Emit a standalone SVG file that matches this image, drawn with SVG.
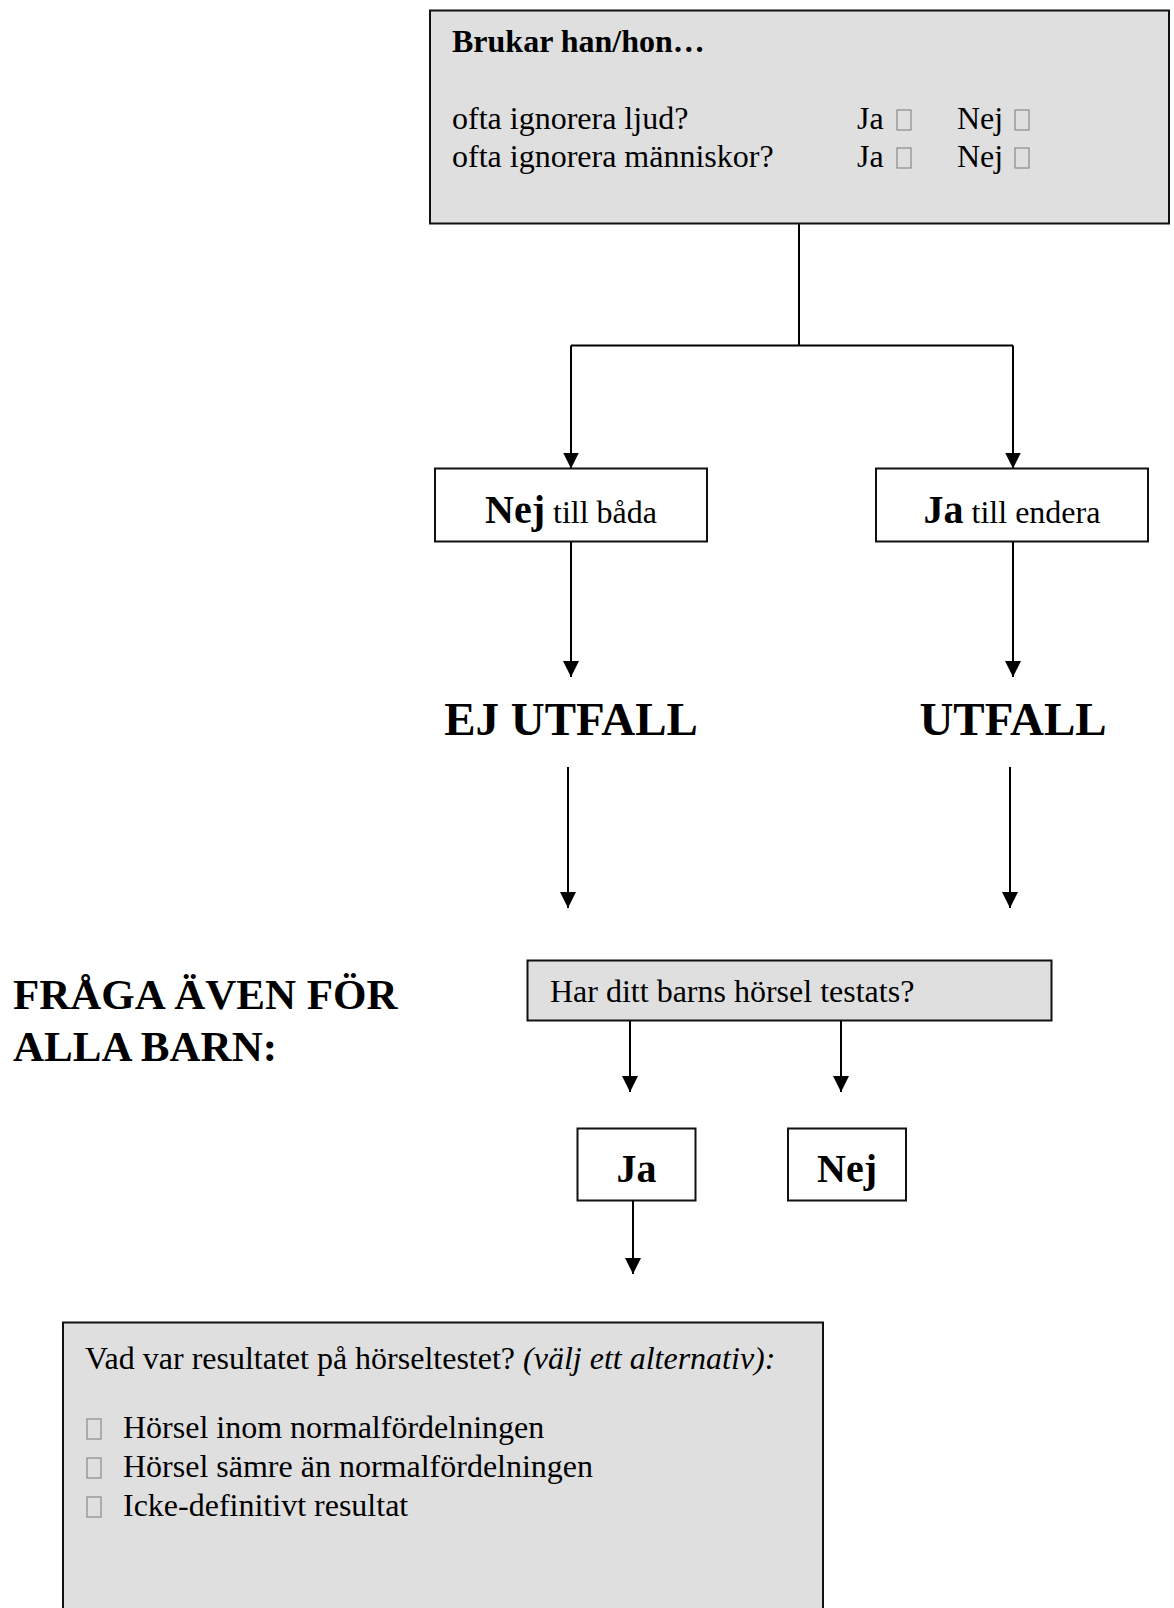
<svg xmlns="http://www.w3.org/2000/svg" width="1174" height="1608" viewBox="0 0 1174 1608">
  <style>
    .box { fill: #ffffff; stroke: #111111; stroke-width: 2; }
    .grey { fill: #dfdfdf; stroke: #111111; stroke-width: 2; }
    .t { font-family: "Liberation Serif", "Times New Roman", serif; fill: #000000; }
    .n { font-size: 32px; }
    .b { font-weight: bold; }
    .i { font-style: italic; }
    .big { font-size: 47px; font-weight: bold; }
    .head { font-size: 43px; font-weight: bold; }
    .mid { font-size: 40px; font-weight: bold; }
    .edge { fill: none; stroke: #000000; stroke-width: 2; }
    .arrow { marker-end: url(#head); }
    .tick { fill: none; stroke: #8a8a8a; stroke-width: 1.2; }
  </style>
  <defs>
    <marker id="head" markerUnits="userSpaceOnUse" markerWidth="16" markerHeight="16" viewBox="0 0 16 16" refX="16" refY="8" orient="auto">
      <path d="M0,0 L16,8 L0,16 Z" fill="#000000"/>
    </marker>
    <rect id="cb" x="0" y="0" width="14" height="20" class="tick"/>
  </defs>

  <rect width="1174" height="1608" fill="#ffffff"/>

  <!-- connectors -->
  <g id="connectors">
    <path class="edge" d="M799,223.5 V345.5 M571,345.5 H1013"/>
    <path class="edge arrow" d="M571,345.5 V468.5"/>
    <path class="edge arrow" d="M1013,345.5 V468.5"/>
    <path class="edge arrow" d="M571,541.5 V677"/>
    <path class="edge arrow" d="M1013,541.5 V677"/>
    <path class="edge arrow" d="M568,767 V908"/>
    <path class="edge arrow" d="M1010,767 V908"/>
    <path class="edge arrow" d="M630,1020.5 V1092"/>
    <path class="edge arrow" d="M841,1020.5 V1092"/>
    <path class="edge arrow" d="M633,1201 V1274"/>
  </g>

  <!-- question box -->
  <g id="node-question">
    <rect class="grey" x="430" y="10.5" width="739" height="213"/>
    <text class="t n b" x="452" y="52">Brukar han/hon…</text>
    <text class="t n" x="452" y="129">ofta ignorera ljud?</text>
    <text class="t n" x="452" y="167">ofta ignorera människor?</text>
    <text class="t n" x="857" y="129">Ja</text>
    <text class="t n" x="957" y="129">Nej</text>
    <text class="t n" x="857" y="167">Ja</text>
    <text class="t n" x="957" y="167">Nej</text>
    <use href="#cb" x="897" y="110"/>
    <use href="#cb" x="1015" y="110"/>
    <use href="#cb" x="897" y="148"/>
    <use href="#cb" x="1015" y="148"/>
  </g>

  <g id="node-nej-bada">
    <rect class="box" x="435" y="468.5" width="272" height="73"/>
    <text class="t" x="571" y="523" text-anchor="middle"><tspan class="mid">Nej</tspan><tspan class="n"> till båda</tspan></text>
  </g>

  <g id="node-ja-endera">
    <rect class="box" x="876" y="468.5" width="272" height="73"/>
    <text class="t" x="1012" y="523" text-anchor="middle"><tspan class="mid">Ja</tspan><tspan class="n"> till endera</tspan></text>
  </g>

  <g id="node-ej-utfall">
    <text class="t big" x="571" y="735" text-anchor="middle">EJ UTFALL</text>
  </g>

  <g id="node-utfall">
    <text class="t big" x="1013" y="735" text-anchor="middle">UTFALL</text>
  </g>

  <g id="node-fraga">
    <text class="t head" x="13" y="1009">FRÅGA ÄVEN FÖR</text>
    <text class="t head" x="13" y="1061">ALLA BARN:</text>
  </g>

  <g id="node-testats">
    <rect class="grey" x="527.5" y="960.5" width="524" height="60"/>
    <text class="t n" x="550" y="1002">Har ditt barns hörsel testats?</text>
  </g>

  <g id="node-ja">
    <rect class="box" x="577.5" y="1128.5" width="118" height="72"/>
    <text class="t mid" x="636.5" y="1182" text-anchor="middle">Ja</text>
  </g>

  <g id="node-nej">
    <rect class="box" x="788" y="1128.5" width="118" height="72"/>
    <text class="t mid" x="847" y="1182" text-anchor="middle">Nej</text>
  </g>

  <g id="node-resultat">
    <rect class="grey" x="63" y="1322.5" width="760" height="300"/>
    <text class="t n" x="85" y="1369">Vad var resultatet på hörseltestet? <tspan class="i">(välj ett alternativ):</tspan></text>
    <use href="#cb" x="87" y="1419"/>
    <use href="#cb" x="87" y="1458"/>
    <use href="#cb" x="87" y="1497"/>
    <text class="t n" x="123" y="1438">Hörsel inom normalfördelningen</text>
    <text class="t n" x="123" y="1477">Hörsel sämre än normalfördelningen</text>
    <text class="t n" x="123" y="1516">Icke-definitivt resultat</text>
  </g>
</svg>
